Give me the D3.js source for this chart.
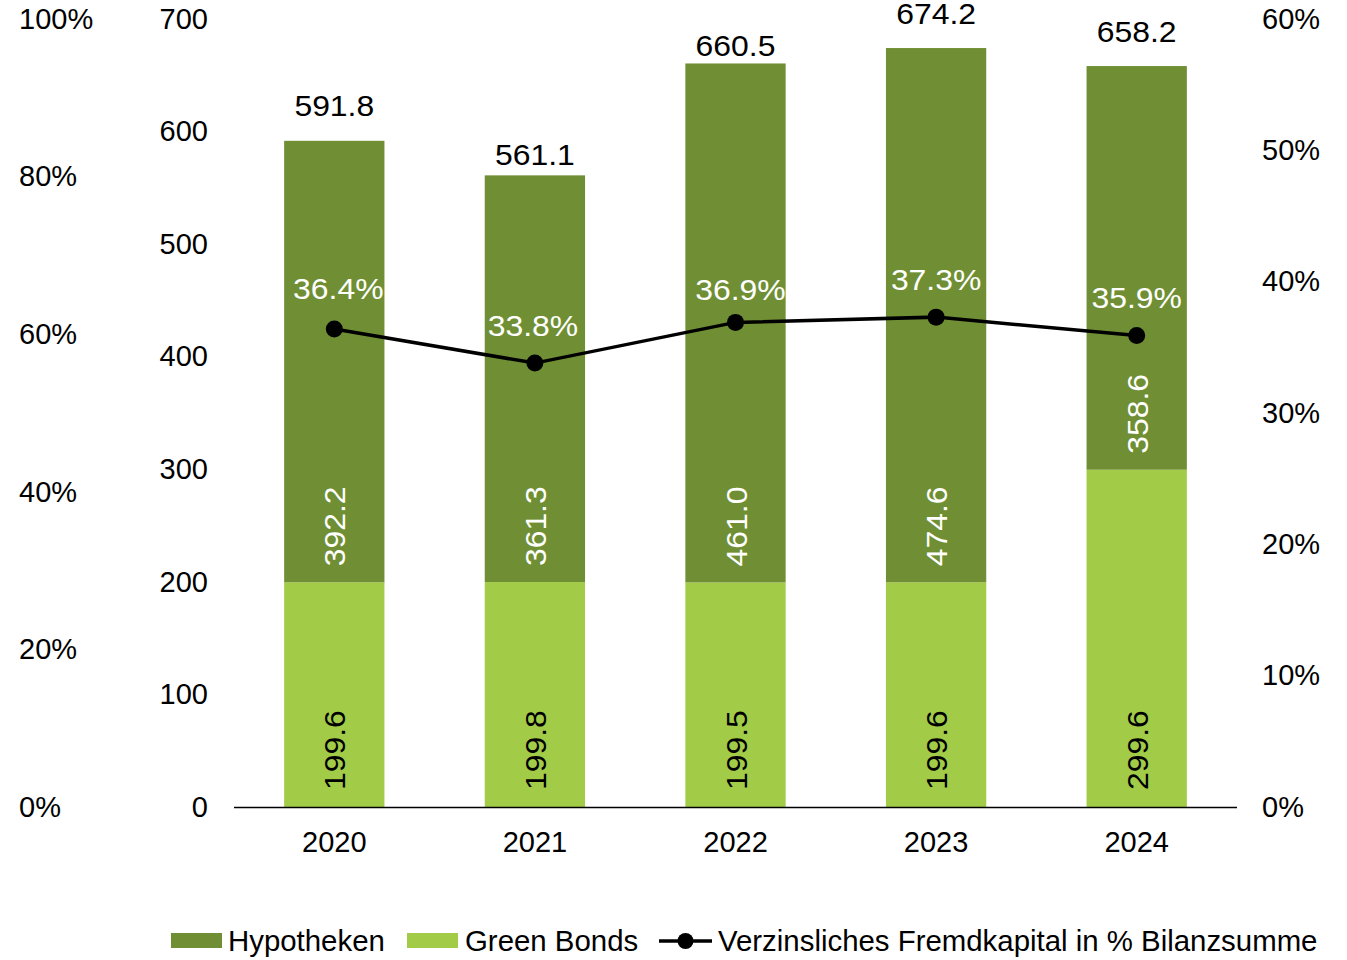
<!DOCTYPE html>
<html><head><meta charset="utf-8">
<script src="https://cdn.jsdelivr.net/npm/d3@7"></script>
<style>
body{margin:0;background:#fff;}
text{font-family:"Liberation Sans",Arial,sans-serif;}
</style></head>
<body>
<svg id="chart" width="1347" height="960"></svg>
<script>
// ---- data ----
const years = ["2020","2021","2022","2023","2024"];
const greenBonds = [199.6, 199.8, 199.5, 199.6, 299.6];
const hypotheken = [392.2, 361.3, 461.0, 474.6, 358.6];
const totals = [591.8, 561.1, 660.5, 674.2, 658.2];
const debtShare = [36.4, 33.8, 36.9, 37.3, 35.9];
const leftPctTicks = [0, 0.2, 0.4, 0.6, 0.8, 1.0];
const valueTicks = [0, 100, 200, 300, 400, 500, 600, 700];
const rightPctTicks = [0, 10, 20, 30, 40, 50, 60];
const seriesNames = ["Hypotheken", "Green Bonds", "Verzinsliches Fremdkapital in % Bilanzsumme"];

// ---- layout / style (label placement as in the original) ----
const totalLabelGap = [25, 10, 7, 24.5, 24.5];
const pctLabelGap = [29.5, 27.5, 22, 27.5, 28];
const pctLabelDx = [4, -2, 5, 0, 0];

const cDark = "#708f34", cLight = "#a2cb48";
const FS = 29;
const SX = 1.1; // data labels are horizontally wider in the original
const svg = d3.select("#chart");
const plotTop = 19, plotBottom = 807;

const x = d3.scaleBand().domain(years).range([234, 1237]).paddingInner(0.5).paddingOuter(0.25);
const y = d3.scaleLinear().domain([0, 700]).range([plotBottom, plotTop]);
const yL = d3.scaleLinear().domain([0, 1]).range([plotBottom, plotTop]);
const yR = d3.scaleLinear().domain([0, 60]).range([plotBottom, plotTop]);

// axes
const axL = svg.append("g").attr("transform", "translate(19,0)")
  .call(d3.axisRight(yL).tickValues(leftPctTicks).tickSize(0).tickFormat(d3.format(".0%")));
const axV = svg.append("g").attr("transform", "translate(208,0)")
  .call(d3.axisLeft(y).tickValues(valueTicks).tickSize(0).tickFormat(d3.format("d")));
const axR = svg.append("g").attr("transform", "translate(1262,0)")
  .call(d3.axisRight(yR).tickValues(rightPctTicks).tickSize(0).tickFormat(d => d + "%"));
[axL, axV, axR].forEach(a => {
  a.select(".domain").remove();
  a.selectAll("text").attr("font-size", FS).attr("fill", "#000")
    .attr("font-family", "Liberation Sans, Arial, sans-serif").attr("x", 0);
});

// bars
const gb = svg.append("g");
gb.selectAll("rect.gb").data(years).join("rect").attr("class", "gb")
  .attr("x", d => x(d)).attr("width", x.bandwidth())
  .attr("y", (d, i) => y(greenBonds[i])).attr("height", (d, i) => y(0) - y(greenBonds[i]))
  .attr("fill", cLight);
gb.selectAll("rect.hy").data(years).join("rect").attr("class", "hy")
  .attr("x", d => x(d)).attr("width", x.bandwidth())
  .attr("y", (d, i) => y(greenBonds[i] + hypotheken[i]))
  .attr("height", (d, i) => y(greenBonds[i]) - y(greenBonds[i] + hypotheken[i]))
  .attr("fill", cDark);

// baseline / category axis
const xAx = svg.append("g").attr("transform", `translate(0,${plotBottom})`)
  .call(d3.axisBottom(x).tickSize(0).tickPadding(0));
xAx.select(".domain").attr("stroke", "#000").attr("stroke-width", 1.5).attr("d", "M234,0.5H1237");
xAx.selectAll("text").attr("font-size", FS).attr("fill", "#000")
  .attr("font-family", "Liberation Sans, Arial, sans-serif").attr("y", 45).attr("dy", 0);

// segment + total labels
const cx = d => x(d) + x.bandwidth() / 2;
const lab = svg.append("g");
years.forEach((d, i) => {
  lab.append("text").attr("transform", `translate(${cx(d) + 11},${y(0) - 17}) rotate(-90) scale(${SX},1)`)
    .attr("font-size", FS).attr("fill", "#000").text(greenBonds[i].toFixed(1));
  lab.append("text").attr("transform", `translate(${cx(d) + 11},${y(greenBonds[i]) - 16}) rotate(-90) scale(${SX},1)`)
    .attr("font-size", FS).attr("fill", "#fff").text(hypotheken[i].toFixed(1));
  lab.append("text").attr("transform", `translate(${cx(d)},${y(totals[i]) - totalLabelGap[i]}) scale(${SX},1)`)
    .attr("text-anchor", "middle").attr("font-size", FS)
    .attr("fill", "#000").text(totals[i].toFixed(1));
});

// line
const line = d3.line().x((d, i) => cx(years[i])).y(d => yR(d));
svg.append("path").datum(debtShare).attr("d", line).attr("fill", "none")
  .attr("stroke", "#000").attr("stroke-width", 3.5);
svg.selectAll("circle.pt").data(debtShare).join("circle").attr("class", "pt")
  .attr("cx", (d, i) => cx(years[i])).attr("cy", d => yR(d)).attr("r", 8.5).attr("fill", "#000");
svg.selectAll("text.pl").data(debtShare).join("text").attr("class", "pl")
  .attr("transform", (d, i) => `translate(${cx(years[i]) + pctLabelDx[i]},${yR(d) - pctLabelGap[i]}) scale(${SX},1)`)
  .attr("text-anchor", "middle").attr("font-size", FS).attr("fill", "#fff")
  .text(d => d.toFixed(1) + "%");

// legend
const lg = svg.append("g");
const ly = 941;
const LFS = 29.4;
lg.append("rect").attr("x", 171).attr("y", ly - 8).attr("width", 51).attr("height", 15).attr("fill", cDark);
lg.append("text").attr("x", 228).attr("y", ly + 10).attr("font-size", LFS).text(seriesNames[0]);
lg.append("rect").attr("x", 407).attr("y", ly - 8).attr("width", 51).attr("height", 15).attr("fill", cLight);
lg.append("text").attr("x", 465).attr("y", ly + 10).attr("font-size", LFS).text(seriesNames[1]);
lg.append("line").attr("x1", 659).attr("x2", 712).attr("y1", ly).attr("y2", ly).attr("stroke", "#000").attr("stroke-width", 3.5);
lg.append("circle").attr("cx", 685.5).attr("cy", ly).attr("r", 8).attr("fill", "#000");
lg.append("text").attr("x", 718).attr("y", ly + 10).attr("font-size", LFS).text(seriesNames[2]);
</script>
</body></html>
